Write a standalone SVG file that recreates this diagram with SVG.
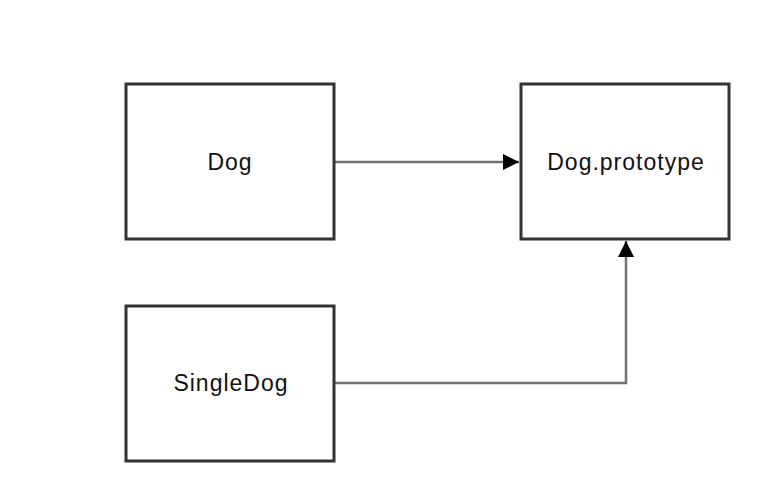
<svg xmlns="http://www.w3.org/2000/svg" width="772" height="503" viewBox="0 0 772 503">
<style>
.box{fill:#fff;stroke:#333;stroke-width:3}
.lbl{font-family:"Liberation Sans",Arial,sans-serif;font-size:23px;letter-spacing:1px;fill:#111;text-anchor:middle}
.conn{fill:none;stroke:#707070;stroke-width:2.5}
</style>
<defs>
<marker id="arr" markerUnits="userSpaceOnUse" markerWidth="18" markerHeight="16" refX="16" refY="8" orient="auto">
<path d="M0,0 L16,8 L0,16 Z" fill="#000"/>
</marker>
</defs>
<rect width="772" height="503" fill="#fff"/>
<g id="connectors">
<path class="conn" d="M335,162 L519,162" marker-end="url(#arr)"/>
<path class="conn" d="M335,383 L626,383 L626,241" marker-end="url(#arr)"/>
</g>
<g id="dog">
<rect class="box" x="126" y="84" width="208" height="155"/>
<text class="lbl" x="230" y="170">Dog</text>
</g>
<g id="dog-prototype">
<rect class="box" x="521" y="84" width="208" height="155"/>
<text class="lbl" x="626" y="170">Dog.prototype</text>
</g>
<g id="singledog">
<rect class="box" x="126" y="306" width="208" height="155"/>
<text class="lbl" x="231" y="391">SingleDog</text>
</g>
</svg>
